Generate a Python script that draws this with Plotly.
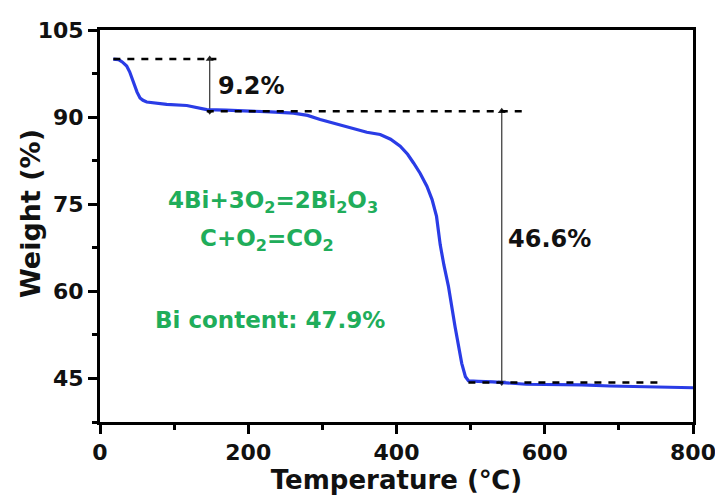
import plotly.graph_objects as go

# ---- data ----
temperature = [18, 25, 30, 36, 40, 45, 50, 54, 58, 63, 75, 90, 117, 130, 144, 170, 198,
               230, 261, 280, 297, 320, 342, 360, 378, 392, 405, 415, 423, 432, 441, 448,
               454, 459, 464, 470, 479, 488, 493, 497, 510, 530, 575, 600, 650, 688, 730,
               773, 800]
weight = [100.0, 99.9, 99.5, 98.8, 97.8, 95.9, 94.3, 93.3, 92.9, 92.6, 92.4, 92.2, 92.0,
          91.7, 91.3, 91.2, 91.0, 90.9, 90.7, 90.3, 89.6, 88.8, 87.9, 87.4, 87.0, 86.2,
          85.0, 83.6, 82.1, 80.3, 78.1, 75.8, 72.9, 68.0, 64.5, 60.9, 53.9, 47.6, 45.3,
          44.6, 44.5, 44.4, 44.0, 44.0, 43.9, 43.7, 43.6, 43.45, 43.4]

# reference levels (dashed guides): [start T, end T, level]
guide_start = [18, 144, 497]
guide_end = [157, 569, 755]
guide_level = [100.0, 91.0, 44.3]

# loss arrows: T position, top level, bottom level, label
loss_T = [148, 542]
loss_top = [100.0, 91.0]
loss_bottom = [91.0, 44.3]
loss_label = ["9.2%", "46.6%"]
loss_label_T = [205, 606]
loss_label_W = [95.3, 69.0]

# reaction notes
note_text = ["4Bi+3O<sub>2</sub>=2Bi<sub>2</sub>O<sub>3</sub>",
             "C+O<sub>2</sub>=CO<sub>2</sub>",
             "Bi content: 47.9%"]
note_T = [234, 225, 229]
note_W = [75.3, 68.8, 55.0]

x_ticks = [0, 200, 400, 600, 800]
y_ticks = [45, 60, 75, 90, 105]

FONT = "DejaVu Sans"
BLUE = "#2a3ce6"
GREEN = "#20ad5a"

fig = go.Figure()

for xs, xe, lv in zip(guide_start, guide_end, guide_level):
    fig.add_shape(type="line", x0=xs, x1=xe, y0=lv, y1=lv, xref="x", yref="y",
                  line=dict(color="black", width=2.5, dash="7px,7px"))

# double-headed loss arrows
for t, top, bot in zip(loss_T, loss_top, loss_bottom):
    fig.add_trace(go.Scatter(x=[t, t], y=[top, bot], mode="lines+markers",
                             line=dict(color="#333333", width=1.2),
                             marker=dict(symbol=["triangle-up", "triangle-down"], size=7,
                                         color="#222222"),
                             showlegend=False, hoverinfo="skip"))

fig.add_trace(go.Scatter(x=temperature, y=weight, mode="lines",
                         line=dict(color=BLUE, width=3.2), showlegend=False,
                         hoverinfo="skip"))

for lab, t, w in zip(loss_label, loss_label_T, loss_label_W):
    fig.add_annotation(x=t, y=w, xref="x", yref="y", text=lab, showarrow=False,
                       font=dict(family=FONT, size=24, color="#111111", weight="bold"))

for txt, t, w in zip(note_text, note_T, note_W):
    fig.add_annotation(x=t, y=w, xref="x", yref="y", text=txt, showarrow=False,
                       font=dict(family=FONT, size=23, color=GREEN, weight="bold"))

# y-axis title placed as a rotated annotation for exact placement
fig.add_annotation(x=0, y=0.5, xref="paper", yref="paper", text="Weight (%)",
                   textangle=-90, showarrow=False, xanchor="center", yanchor="middle",
                   xshift=-70, yshift=12,
                   font=dict(family=FONT, size=27, color="#111111", weight="bold"))

axis_common = dict(showline=True, linecolor="black", linewidth=3, mirror=True,
                   ticks="outside", ticklen=9, tickwidth=2.5, tickcolor="black",
                   showgrid=False, zeroline=False, automargin=False,
                   tickfont=dict(family=FONT, size=22, color="#111111", weight="bold"))

# the page body adds an 8px offset; the figure is sized to fit the 723x501 window
fig.update_layout(
    width=715, height=493,
    margin=dict(l=92, r=30, t=22, b=79),
    plot_bgcolor="white", paper_bgcolor="white",
    xaxis=dict(range=[0, 800], tickvals=x_ticks, ticktext=[str(v) for v in x_ticks],
               minor=dict(ticks="outside", ticklen=5, tickwidth=2.5, tickcolor="black",
                          dtick=100, tick0=0),
               title=dict(text="Temperature (℃)", standoff=4,
                          font=dict(family=FONT, size=26, color="#111111", weight="bold")),
               **axis_common),
    yaxis=dict(range=[37.5, 105], tickvals=y_ticks, ticktext=[str(v) for v in y_ticks],
               minor=dict(ticks="outside", ticklen=5, tickwidth=2.5, tickcolor="black",
                          dtick=7.5, tick0=0),
               **axis_common),
)

fig.write_html("out.html")
